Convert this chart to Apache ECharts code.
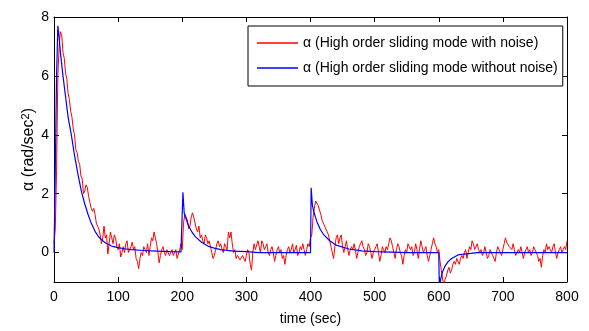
<!DOCTYPE html>
<html>
<head>
<meta charset="utf-8">
<script src="https://cdn.jsdelivr.net/npm/echarts@6/dist/echarts.min.js"></script>
<style>html,body{margin:0;padding:0;background:#fff}#c{width:589px;height:331px}</style>
</head>
<body>
<div id="c"></div>
<script>
// Red series (with noise): samples every 2 s
const redStep = 2;
const redSeg1 = [ // t = 0 .. 200
 0.3, 0.8, 2.8, 6.0, 7.0, 7.5, 7.4, 6.8, 6.6, 6.1,
 5.9, 5.4, 5.2, 4.8, 4.6, 4.2, 4.0, 3.5, 3.4, 3.1,
 3.0, 2.6, 2.5, 2.0, 2.1, 2.3, 2.2, 1.9, 1.7, 1.5,
 1.4, 1.5, 1.3, 1.0, 0.9, 0.8, 0.6, 0.3, 0.5, 0.9,
 0.5, 0.6, -0.05, 0.3, 0.7, 0.5, 0.3, 0.6, 0.5, 0.2,
 0.1, 0.3, -0.15, 0.0, 0.2, 0.0, 0.3, 0.4, 0.0, 0.1,
 0.2, 0.35, 0.1, 0.2, -0.2, -0.3, -0.55, -0.2, 0.0, -0.1,
 0.2, 0.1, 0.0, 0.3, -0.1, 0.2, 0.5, 0.4, 0.7, 0.5,
 0.3, 0.0, -0.35, -0.1, 0.1, 0.2, 0.0, -0.1, 0.1, 0.15,
 -0.1, 0.0, 0.1, -0.1, 0.0, 0.1, -0.2, -0.05, 0.1, 0.3,
 0.1
];
const redSeg2 = [ // t = 202 .. 400
 1.0, 1.3, 1.25, 1.1, 0.8, 0.9, 1.2, 1.35, 1.2, 1.0,
 0.8, 0.7, 0.9, 0.5, 0.6, 0.4, 0.3, 0.6, 0.5, 0.3,
 0.4, 0.2, 0.0, -0.2, -0.1, 0.1, 0.3, 0.4, 0.2, 0.3,
 0.1, 0.0, 0.3, 0.2, 0.1, 0.7, 0.5, 0.7, 0.3, 0.0,
 0.1, -0.2, -0.1, -0.1, -0.25, -0.3, -0.1, -0.2, -0.3, -0.1,
 0.1, 0.0, -0.4, -0.6, 0.0, 0.3, 0.1, 0.1, 0.4, 0.2,
 0.0, 0.4, 0.3, 0.1, 0.2, 0.3, 0.0, -0.1, 0.1, 0.2,
 0.0, -0.3, -0.1, 0.1, 0.2, 0.0, 0.1, -0.2, -0.1, -0.4,
 -0.1, 0.1, 0.2, 0.0, 0.1, 0.3, 0.0, 0.1, 0.25, -0.1,
 0.0, 0.2, 0.1, 0.3, 0.1, -0.1, 0.1, 0.3, 0.2, 0.5
];
const redSeg3 = [ // t = 402 .. 600
 0.6, 1.2, 1.5, 1.75, 1.7, 1.6, 1.45, 1.3, 1.1, 1.0,
 0.9, 0.8, 0.7, 0.6, 0.4, 0.2, 0.0, -0.2, 0.2, 0.5,
 0.6, 0.3, 0.5, 0.6, 0.2, 0.0, 0.2, 0.4, 0.1, -0.1,
 0.1, 0.2, 0.1, 0.3, 0.1, -0.2, 0.0, 0.2, 0.3, 0.4,
 0.2, 0.1, -0.1, 0.0, 0.3, 0.2, 0.0, -0.2, 0.0, 0.1,
 0.2, 0.3, 0.0, -0.3, -0.1, 0.2, 0.1, 0.0, 0.2, 0.1,
 0.3, 0.5, 0.4, 0.2, 0.0, -0.2, 0.1, 0.3, 0.2, 0.0,
 -0.1, -0.4, -0.1, 0.1, 0.0, 0.3, 0.2, 0.1, 0.2, -0.1,
 0.0, 0.3, 0.1, -0.2, 0.1, 0.4, 0.2, 0.0, 0.1, 0.2,
 -0.1, -0.3, -0.1, 0.1, 0.3, 0.5, 0.3, 0.2, 0.0, 0.1
];
const redSeg4 = [ // t = 602 .. 800
 -0.3, -0.6, -0.9, -1.1, -0.9, -0.8, -0.6, -0.5, -0.7, -0.6,
 -0.4, -0.3, -0.4, -0.2, -0.3, -0.4, -0.2, -0.1, -0.2, 0.0,
 0.1, -0.2, 0.0, 0.2, 0.1, 0.4, 0.3, 0.1, 0.2, 0.3,
 0.1, 0.0, 0.1, -0.1, 0.0, 0.2, 0.0, -0.2, -0.1, 0.1,
 0.0, -0.1, -0.2, -0.3, 0.0, 0.2, 0.1, 0.0, -0.1, 0.1,
 0.3, 0.5, 0.35, 0.4, 0.2, 0.2, 0.1, 0.3, 0.1, -0.1,
 0.0, 0.1, 0.0, 0.2, 0.0, -0.2, 0.0, 0.1, 0.2, 0.0,
 0.1, -0.1, 0.0, 0.2, 0.1, 0.0, -0.1, -0.3, -0.2, -0.5,
 -0.1, 0.1, 0.0, 0.3, 0.1, 0.2, 0.1, 0.0, 0.2, 0.3,
 0.0, -0.2, 0.0, 0.1, 0.2, 0.0, 0.1, 0.2, 0.1, 0.4
];
// Blue series (without noise)
const blueTimes = [0, 2, 4, 6, 8, 10, 14, 18, 22, 27, 32, 37, 43, 48, 53, 58, 64, 70, 80, 90, 100, 110, 120, 140, 160, 180, 198, 200,
 201, 203, 205, 210, 215, 220, 230, 240, 250, 260, 280, 300, 320, 340, 400,
 401, 403, 405, 410, 415, 420, 430, 440, 460, 480, 500, 550, 600,
 601, 603, 606, 610, 615, 620, 630, 640, 650, 660, 700, 800];
const blueValues = [0, 2.8, 6.0, 7.7, 7.3, 6.8, 6.0, 5.3, 4.6, 4.0, 3.3, 2.7, 2.05, 1.65, 1.3, 1.0, 0.72, 0.52, 0.33, 0.22, 0.17, 0.13, 0.1, 0.07, 0.05, 0.03, 0.02, 0.0,
 2.05, 1.35, 1.2, 0.9, 0.7, 0.55, 0.35, 0.22, 0.15, 0.1, 0.05, 0.03, 0.0, 0.0, 0.0,
 2.2, 1.6, 1.4, 1.05, 0.8, 0.62, 0.4, 0.25, 0.12, 0.06, 0.03, 0.0, 0.0,
 -1.3, -0.9, -0.65, -0.45, -0.3, -0.2, -0.08, -0.05, -0.03, 0.0, 0.0, 0.0];
const xTicks = [0, 100, 200, 300, 400, 500, 600, 700, 800];
const yTicks = [0, 2, 4, 6, 8];
const seriesNames = ['α (High order sliding mode with noise)', 'α (High order sliding mode without noise)'];

const redValues = redSeg1.concat(redSeg2, redSeg3, redSeg4);
const redData = redValues.map((v, i) => [i * redStep, v]);
const blueData = blueTimes.map((t, i) => [t, blueValues[i]]);

const FONT = '"Liberation Sans", Arial, sans-serif';
const axisLine = { show: true, onZero: false, lineStyle: { color: '#000', width: 1 } };
const tick = { show: true, inside: true, length: 5, lineStyle: { color: '#000' } };

const chart = echarts.init(document.getElementById('c'), null, { renderer: 'canvas' });
chart.setOption({
  animation: false,
  backgroundColor: '#fff',
  grid: { left: 54, right: 22, top: 17, bottom: 48, containLabel: false },
  legend: {
    orient: 'vertical', left: 248, top: 26,
    padding: [9, 5, 10, 9],
    icon: 'rect', itemWidth: 41, itemHeight: 1.5, itemGap: 9,
    backgroundColor: '#fff', borderColor: '#000', borderWidth: 1, borderRadius: 0,
    textStyle: { fontFamily: FONT, fontSize: 14, lineHeight: 16, color: '#000' },
    data: seriesNames
  },
  xAxis: [{
    type: 'value', min: 0, max: 800, interval: 100,
    axisLine, axisTick: tick, splitLine: { show: false },
    axisLabel: { fontFamily: FONT, fontSize: 14, color: '#000', margin: 8, customValues: xTicks },
    name: 'time (sec)', nameLocation: 'middle', nameGap: 30,
    nameTextStyle: { fontFamily: FONT, fontSize: 14, color: '#000' }
  }, {
    type: 'value', min: 0, max: 800, interval: 100, position: 'top',
    axisLine, axisTick: tick, axisLabel: { show: false }, splitLine: { show: false }
  }],
  yAxis: [{
    type: 'value', min: -1, max: 8,
    axisLine, splitLine: { show: false },
    axisTick: Object.assign({}, tick, { customValues: yTicks }),
    axisLabel: { fontFamily: FONT, fontSize: 14, color: '#000', margin: 5, customValues: yTicks },
    name: '{a|α (rad/sec}{s|2}{a|)}', nameLocation: 'middle', nameGap: 17, nameRotate: 90,
    nameMoveOverlap: false,
    nameTextStyle: { rich: {
      a: { fontFamily: FONT, fontSize: 16, color: '#000' },
      s: { fontFamily: FONT, fontSize: 11, color: '#000', verticalAlign: 'top', padding: [0,0,6,0] }
    } }
  }, {
    type: 'value', min: -1, max: 8, position: 'right',
    axisLine, splitLine: { show: false },
    axisTick: Object.assign({}, tick, { customValues: yTicks }),
    axisLabel: { show: false }
  }],
  series: [{
    name: seriesNames[0], type: 'line', data: redData, showSymbol: false, symbol: 'none',
    lineStyle: { color: '#ff0000', width: 1 }, itemStyle: { color: '#ff0000' }, clip: true
  }, {
    name: seriesNames[1], type: 'line', data: blueData, showSymbol: false, symbol: 'none',
    lineStyle: { color: '#0000ff', width: 1.2 }, itemStyle: { color: '#0000ff' }, clip: true
  }]
});
</script>
</body>
</html>
